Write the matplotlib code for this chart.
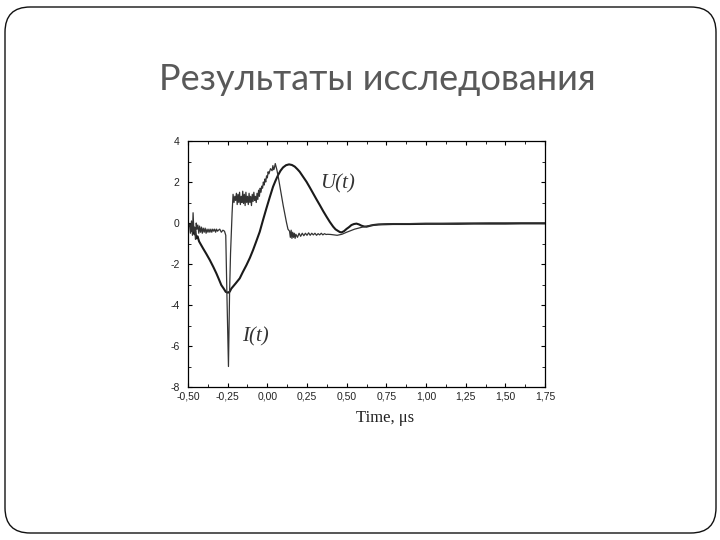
import matplotlib
matplotlib.use("Agg")
import matplotlib.pyplot as plt
from matplotlib.patches import FancyBboxPatch
from matplotlib.ticker import MultipleLocator, FuncFormatter

plt.rcParams["axes.unicode_minus"] = False

# voltage U(t), thick smooth curve
u_t = [-0.50, -0.49, -0.48, -0.475, -0.468, -0.46, -0.455, -0.447, -0.44, -0.43,
       -0.405, -0.385, -0.363, -0.34, -0.321, -0.305, -0.29, -0.275, -0.262, -0.248,
       -0.237, -0.227, -0.20, -0.174, -0.155, -0.132, -0.11, -0.09, -0.07, -0.048,
       -0.027, -0.006, 0.015, 0.036, 0.052, 0.068, 0.083, 0.099, 0.118, 0.137,
       0.155, 0.173, 0.19, 0.204, 0.225, 0.247, 0.268, 0.289, 0.31, 0.331,
       0.352, 0.373, 0.394, 0.415, 0.43, 0.446, 0.457, 0.467, 0.483, 0.499,
       0.515, 0.530, 0.546, 0.562, 0.578, 0.593, 0.61, 0.625, 0.645, 0.667,
       0.70, 0.75, 0.793, 0.9, 1.0, 1.1, 1.2, 1.3, 1.4, 1.5, 1.6, 1.75]
u_v = [0.0, -0.15, -0.05, -0.4, -0.25, -0.55, -0.4, -0.75, -0.65, -0.9,
       -1.24, -1.5, -1.8, -2.15, -2.46, -2.75, -3.03, -3.2, -3.36, -3.4,
       -3.35, -3.2, -2.95, -2.7, -2.4, -2.06, -1.7, -1.32, -0.9, -0.43,
       0.15, 0.71, 1.25, 1.77, 2.07, 2.34, 2.55, 2.71, 2.82, 2.86,
       2.83, 2.75, 2.62, 2.5, 2.26, 2.01, 1.73, 1.44, 1.15, 0.87,
       0.58, 0.31, 0.05, -0.18, -0.31, -0.39, -0.44, -0.46, -0.4, -0.29,
       -0.2, -0.1, -0.05, -0.03, -0.07, -0.13, -0.17, -0.18, -0.14, -0.1,
       -0.07, -0.06, -0.05, -0.05, -0.04, -0.04, -0.04, -0.03, -0.03, -0.03, -0.02, -0.02]

# current I(t), thin noisy curve
i_t = [-0.50, -0.49, -0.485, -0.478, -0.472, -0.468, -0.463, -0.458, -0.453, -0.448,
       -0.443, -0.438, -0.432, -0.427, -0.421, -0.415, -0.41, -0.404, -0.398, -0.392,
       -0.386, -0.38, -0.374, -0.368, -0.362, -0.356, -0.35, -0.344, -0.338, -0.332,
       -0.326, -0.32, -0.314, -0.308, -0.30, -0.29, -0.28, -0.27, -0.262, -0.255,
       -0.245, -0.238, -0.232, -0.222, -0.216, -0.21, -0.205, -0.20, -0.195, -0.19,
       -0.185, -0.18, -0.175, -0.17, -0.165, -0.16, -0.155, -0.15, -0.145, -0.14,
       -0.135, -0.13, -0.125, -0.12, -0.115, -0.11, -0.105, -0.10, -0.095, -0.09,
       -0.085, -0.08, -0.075, -0.07, -0.065, -0.06, -0.055, -0.05, -0.045, -0.04,
       -0.035, -0.03, -0.025, -0.02, -0.015, -0.01, -0.005, 0.0, 0.005, 0.01,
       0.02, 0.03, 0.035, 0.04, 0.045, 0.05, 0.055, 0.06, 0.07, 0.08,
       0.09, 0.10, 0.11, 0.12, 0.13, 0.14, 0.145, 0.15, 0.155, 0.16,
       0.165, 0.17, 0.175, 0.18, 0.19, 0.20, 0.21, 0.22, 0.23, 0.24,
       0.25, 0.26, 0.27, 0.28, 0.29, 0.30, 0.31, 0.32, 0.33, 0.34,
       0.35, 0.36, 0.37, 0.38, 0.40, 0.42, 0.44, 0.47, 0.50, 0.55,
       0.60, 0.65, 0.70, 0.75, 0.80, 0.90, 1.0, 1.1, 1.2, 1.3,
       1.4, 1.5, 1.6, 1.75]
i_v = [0.0, -0.1, -0.5, 0.1, -0.6, 0.5, -0.4, -0.2, -0.8, 0.0,
       -0.3, -0.1, -0.5, -0.15, -0.45, -0.2, -0.5, -0.25, -0.45, -0.25,
       -0.5, -0.3, -0.45, -0.3, -0.45, -0.3, -0.45, -0.3, -0.4, -0.3,
       -0.45, -0.3, -0.4, -0.35, -0.3, -0.45, -0.35, -0.4, -0.6, -3.4,
       -7.0, -3.4, -1.5, 0.5, 1.4, 1.0, 1.3, 1.1, 1.45, 0.9,
       1.4, 1.0, 1.5, 0.9, 1.3, 1.0, 1.55, 0.95, 1.4, 0.85,
       1.5, 1.0, 1.3, 0.9, 1.45, 1.0, 1.3, 0.85, 1.4, 1.05,
       1.5, 1.1, 1.3, 1.0, 1.45, 1.15, 1.6, 1.3, 1.7, 1.5,
       1.8, 1.7, 2.0, 1.85, 2.15, 2.0, 2.3, 2.2, 2.5, 2.4,
       2.65, 2.55, 2.8, 2.6, 2.7, 2.9, 2.75, 2.6, 2.2, 1.75,
       1.3, 0.85, 0.45, 0.05, -0.3, -0.4, -0.7, -0.35, -0.75, -0.45,
       -0.7, -0.5, -0.75, -0.55, -0.7, -0.5, -0.65, -0.5, -0.62, -0.5,
       -0.6, -0.48, -0.6, -0.5, -0.58, -0.5, -0.6, -0.52, -0.58, -0.5,
       -0.58, -0.52, -0.56, -0.55, -0.56, -0.58, -0.6, -0.55, -0.45, -0.3,
       -0.2, -0.12, -0.08, -0.05, -0.04, -0.03, -0.02, -0.02, -0.01, -0.01,
       0.0, 0.0, 0.0, 0.0]

x_ticks = [-0.50, -0.25, 0.00, 0.25, 0.50, 0.75, 1.00, 1.25, 1.50, 1.75]
y_ticks = [-8, -6, -4, -2, 0, 2, 4]

fig = plt.figure(figsize=(7.2, 5.4), dpi=100)

# slide frame
frame = FancyBboxPatch((5 / 720, 7 / 540), 711 / 720, 526 / 540,
                       boxstyle="round,pad=0,rounding_size=0.035",
                       transform=fig.transFigure, fill=False,
                       edgecolor="#111111", linewidth=1.0, mutation_aspect=720 / 540)
fig.patches.append(frame)

fig.text(0.524, 0.852, "Результаты исследования", ha="center", va="center",
         fontsize=26, color="#595959", family="Lato")

ax = fig.add_axes([188 / 720, 1 - 387 / 540, 357 / 720, 246 / 540])
ax.plot(u_t, u_v, color="#1a1a1a", linewidth=1.5)
ax.plot(i_t, i_v, color="#333333", linewidth=0.9)

ax.set_xlim(-0.5, 1.75)
ax.set_ylim(-8, 4)
ax.set_xticks(x_ticks)
ax.set_yticks(y_ticks)
ax.xaxis.set_minor_locator(MultipleLocator(0.125))
ax.yaxis.set_minor_locator(MultipleLocator(1))
ax.xaxis.set_major_formatter(FuncFormatter(lambda v, p: f"{v:.2f}".replace(".", ",")))
ax.tick_params(which="both", direction="in", top=True, right=True, labelsize=7.5, pad=3,
               labelcolor="#222222")
ax.tick_params(axis="y", pad=6)
ax.tick_params(which="major", length=3, width=0.8)
ax.tick_params(which="minor", length=2, width=0.6)
for lab in ax.get_xticklabels() + ax.get_yticklabels():
    lab.set_family("Liberation Sans")
for s in ax.spines.values():
    s.set_linewidth(0.9)

ax.text(0.552, -0.126, "Time, μs", fontsize=12, family="Liberation Serif",
        ha="center", va="center", transform=ax.transAxes, color="#222222")

ax.text(0.44, 1.9, "U(t)", fontsize=15, style="italic", family="Liberation Serif",
        ha="center", va="center", color="#333333")
ax.text(-0.075, -5.56, "I(t)", fontsize=15, style="italic", family="Liberation Serif",
        ha="center", va="center", color="#333333")

fig.savefig("out.png", dpi=100)
